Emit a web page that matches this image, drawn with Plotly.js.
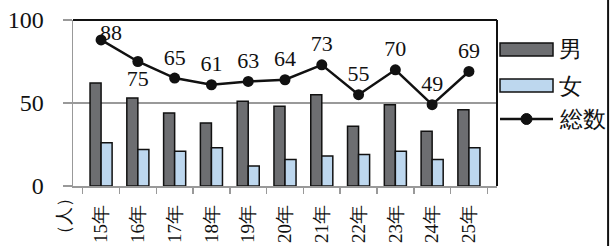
<!DOCTYPE html>
<html>
<head>
<meta charset="utf-8">
<script src="https://cdn.plot.ly/plotly-3.0.1.min.js"></script>
<style>html,body{margin:0;padding:0;background:#fff;}#chart{width:616px;height:246px;}</style>
</head>
<body>
<div id="chart"></div>
<script>
const years = ["15年","16年","17年","18年","19年","20年","21年","22年","23年","24年","25年"];
const male = [62, 53, 44, 38, 51, 48, 55, 36, 49, 33, 46];
const female = [26, 22, 21, 23, 12, 16, 18, 19, 21, 16, 23];
const total = [88, 75, 65, 61, 63, 64, 73, 55, 70, 49, 69];
const labelPos = ["top center","bottom center","top center","top center","top center","top center","top center","top center","top center","top center","top center"];
const seriesNames = ["男","女","総数"];
const maleColor = '#6d6e71', femaleColor = '#bdd7ee', ink = '#111';

const serif = "Liberation Serif";

const traces = [
  {type:'bar', name:seriesNames[0], x:years, y:male, marker:{color:maleColor, line:{color:ink, width:1.5}}},
  {type:'bar', name:seriesNames[1], x:years, y:female, marker:{color:femaleColor, line:{color:ink, width:1.5}}},
  {type:'scatter', mode:'lines+markers+text', name:seriesNames[2], x:years, y:total,
   text:total.map((v,i) => i === 0 ? '' : String(v)), textposition:labelPos, cliponaxis:false,
   textfont:{family:serif, size:22, color:ink},
   line:{color:ink, width:2.5}, marker:{color:ink, size:11}}
];

// first total label sits up-right of its point in the original
const firstLabel = {x:years[0], y:total[0], text:String(total[0]), showarrow:false,
  xshift:10, yshift:7, font:{family:serif, size:22, color:ink}};

// custom legend (wide swatches like the original)
const lx0 = 1.0071, lx1 = 1.1321, ltx = 1.1415;
const legendShapes = [
  {type:'rect', xref:'paper', yref:'paper', x0:lx0, x1:lx1, y0:0.7831, y1:0.8614, fillcolor:maleColor, line:{color:ink, width:1.5}},
  {type:'rect', xref:'paper', yref:'paper', x0:lx0, x1:lx1, y0:0.5663, y1:0.6446, fillcolor:femaleColor, line:{color:ink, width:1.5}},
  {type:'line', xref:'paper', yref:'paper', x0:lx0, x1:lx1, y0:0.4036, y1:0.4036, line:{color:ink, width:2.5}},
  {type:'circle', xref:'paper', yref:'paper', xsizemode:'pixel', ysizemode:'pixel', xanchor:(lx0+lx1)/2, yanchor:0.4036,
   x0:-5.5, x1:5.5, y0:-5.5, y1:5.5, fillcolor:ink, line:{color:ink, width:1}}
];
const legendTexts = [
  {y:0.8193, text:seriesNames[0]},
  {y:0.6024, text:seriesNames[1]},
  {y:0.3976, text:seriesNames[2]}
].map(o => ({xref:'paper', yref:'paper', x:ltx, y:o.y, xanchor:'left', yanchor:'middle', text:o.text,
  showarrow:false, font:{family:serif, size:23, color:ink}}));

const layout = {
  width:616, height:246,
  margin:{l:73, r:119, t:20, b:60},
  paper_bgcolor:'#fff', plot_bgcolor:'#fff',
  barmode:'group', bargap:0.4, bargroupgap:0,
  showlegend:false,
  font:{family:serif, color:ink},
  xaxis:{type:'category', showline:true, linecolor:'#999', linewidth:1.5,
    ticks:'outside', tickson:'boundaries', ticklen:6, tickcolor:'#999', tickwidth:1.5,
    ticklabelstandoff:10,
    tickangle:-90, tickfont:{family:serif, size:19, color:ink}, showgrid:false, automargin:false},
  yaxis:{range:[0,100], tickvals:[0,50,100], showline:true, linecolor:'#999', linewidth:1.5,
    ticks:'outside', ticklen:9, tickcolor:'#999', tickwidth:1.5, ticklabelstandoff:14,
    showgrid:true, gridcolor:'#999', gridwidth:1.5, zeroline:false,
    tickfont:{family:serif, size:24, color:ink}, automargin:false},
  shapes:[
    {type:'line', xref:'paper', yref:'paper', x0:0, x1:1, y0:1, y1:1, line:{color:ink, width:2}},
    {type:'line', xref:'paper', yref:'paper', x0:1, x1:1, y0:0, y1:1, line:{color:ink, width:2}},
    {type:'line', xref:'paper', yref:'paper', x0:1.262, x1:1.262, y0:-0.4, y1:1.2, line:{color:ink, width:2}}
  ].concat(legendShapes),
  annotations:[
    firstLabel,
    {xref:'paper', yref:'paper', x:-0.022, y:-0.18, xanchor:'center', yanchor:'middle', text:'（人）', showarrow:false, textangle:-90,
     font:{family:serif, size:18, color:ink}}
  ].concat(legendTexts)
};

Plotly.newPlot('chart', traces, layout, {displayModeBar:false, staticPlot:true});
</script>
</body>
</html>
